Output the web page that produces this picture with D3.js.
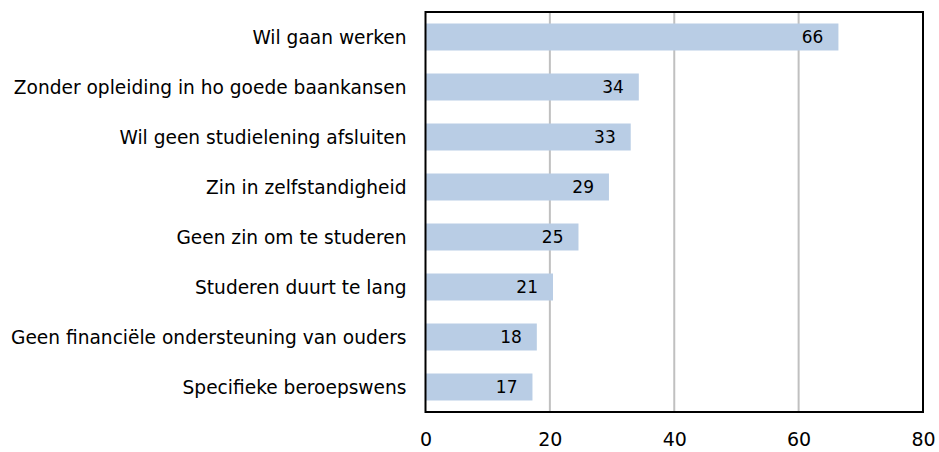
<!DOCTYPE html>
<html>
<head>
<meta charset="utf-8">
<script src="https://cdn.jsdelivr.net/npm/d3@7"></script>
<style>
  body { margin: 0; background: #fff; }
  text { font-family: "DejaVu Sans", sans-serif; fill: #000; }
</style>
</head>
<body>
<script>
// data
var categories = [
    "Wil gaan werken",
    "Zonder opleiding in ho goede baankansen",
    "Wil geen studielening afsluiten",
    "Zin in zelfstandigheid",
    "Geen zin om te studeren",
    "Studeren duurt te lang",
    "Geen financiële ondersteuning van ouders",
    "Specifieke beroepswens"
];
var values = [66.4, 34.3, 33.0, 29.5, 24.6, 20.5, 17.9, 17.2];
var valueLabels = ["66", "34", "33", "29", "25", "21", "18", "17"];
var xTicks = [0, 20, 40, 60, 80];

var W = 939, H = 452;
var margin = { top: 12, right: 16, bottom: 40, left: 425.5 },
    width = W - margin.left - margin.right,
    height = H - margin.top - margin.bottom;

var svg = d3.select("body")
    .append("svg")
    .attr("width", W)
    .attr("height", H)
    .append("g")
    .attr("transform", "translate(" + margin.left + "," + margin.top + ")");

var x = d3.scaleLinear()
    .domain([0, 80])
    .range([0, width]);

var y = d3.scaleBand()
    .domain(categories)
    .range([0, height])
    .paddingInner(0.46)
    .paddingOuter(0.23);

// gridlines
svg.append("g")
    .selectAll("line")
    .data(xTicks.slice(1, -1))
    .enter().append("line")
    .attr("x1", function (d) { return x(d); })
    .attr("x2", function (d) { return x(d); })
    .attr("y1", 0)
    .attr("y2", height)
    .style("stroke", "#c0c0c0")
    .style("stroke-width", 2);

// bars
svg.append("g")
    .selectAll("rect")
    .data(values)
    .enter().append("rect")
    .attr("x", x(0))
    .attr("y", function (d, i) { return y(categories[i]); })
    .attr("height", y.bandwidth())
    .attr("width", function (d) { return x(d) - x(0); })
    .style("fill", "#b9cde5");

// value labels
svg.append("g")
    .selectAll("text")
    .data(values)
    .enter().append("text")
    .attr("x", function (d) { return x(d) - 15; })
    .attr("y", function (d, i) { return y(categories[i]) + y.bandwidth() / 2; })
    .attr("dy", "0.36em")
    .attr("text-anchor", "end")
    .style("font-size", "17px")
    .text(function (d, i) { return valueLabels[i]; });

// frame
svg.append("rect")
    .attr("x", 0)
    .attr("y", 0)
    .attr("width", width)
    .attr("height", height)
    .style("fill", "none")
    .style("stroke", "#000")
    .style("stroke-width", 2);

// category labels
svg.append("g")
    .selectAll("text")
    .data(categories)
    .enter().append("text")
    .attr("x", -19)
    .attr("y", function (d) { return y(d) + y.bandwidth() / 2; })
    .attr("dy", "0.36em")
    .attr("text-anchor", "end")
    .style("font-size", "18.6px")
    .text(function (d) { return d; });

// x axis
var xAxis = svg.append("g")
    .attr("transform", "translate(0," + height + ")")
    .call(d3.axisBottom(x).tickValues(xTicks).tickSize(0).tickPadding(21));
xAxis.select(".domain").remove();
xAxis.selectAll("text")
    .style("font-family", "'DejaVu Sans', sans-serif")
    .style("font-size", "19px");
</script>
</body>
</html>
